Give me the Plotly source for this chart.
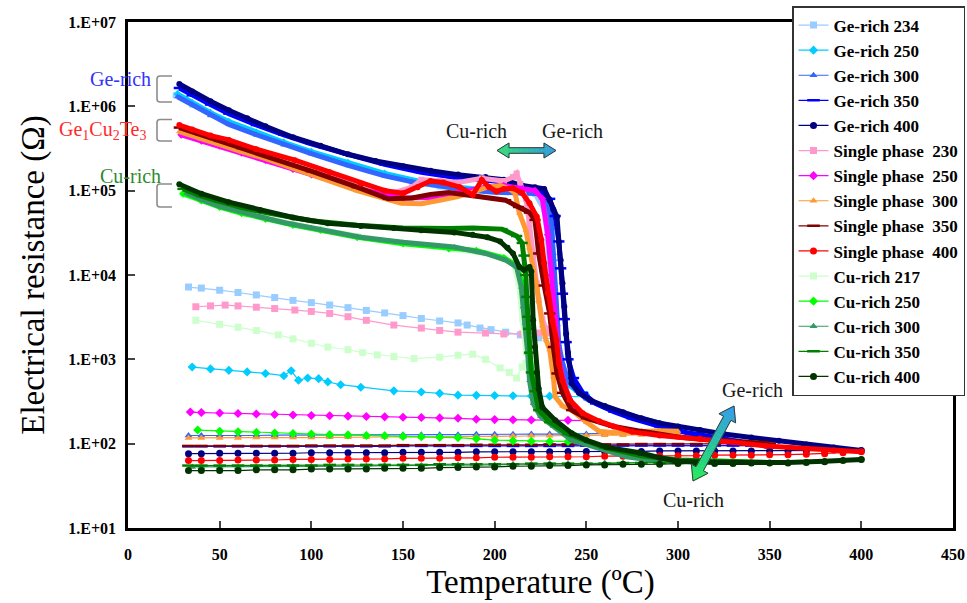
import plotly.graph_objects as go

# ---------------- data ----------------
names = ["Ge-rich 234", "Ge-rich 250", "Ge-rich 300", "Ge-rich 350", "Ge-rich 400",
         "Single phase\u00a0\u00a0230", "Single phase\u00a0\u00a0250", "Single phase\u00a0\u00a0300",
         "Single phase\u00a0\u00a0350", "Single phase\u00a0\u00a0400",
         "Cu-rich 217", "Cu-rich 250", "Cu-rich 300", "Cu-rich 350", "Cu-rich 400"]

# Ge-rich 234
ge234_heat_T = [26, 35, 45, 55, 70, 85, 100, 120, 140, 155, 170, 185, 200, 212, 222, 227, 229, 230, 231, 232, 233, 234]
ge234_heat_R = [1.35e6, 1.05e6, 8.0e5, 6.4e5, 4.7e5, 3.6e5, 2.8e5, 2.05e5, 1.55e5, 1.28e5, 1.12e5, 1.02e5, 9.8e4, 9.6e4, 9.2e4, 6.0e4, 2.5e4, 1.0e4, 5.0e3, 3.0e3, 2.2e3, 1.85e3]
ge234_cool_T = [234, 224, 214, 206, 198, 192, 185, 180, 170, 160, 150, 140, 130, 120, 110, 100, 90, 80, 70, 60, 50, 40, 33]
ge234_cool_R = [1.75e3, 1.8e3, 1.95e3, 2.1e3, 2.25e3, 2.35e3, 2.55e3, 2.7e3, 2.85e3, 3.05e3, 3.3e3, 3.55e3, 3.8e3, 4.1e3, 4.4e3, 4.7e3, 5.0e3, 5.4e3, 5.8e3, 6.2e3, 6.6e3, 7.0e3, 7.2e3]

# Ge-rich 250
ge250_heat_T = [27, 35, 45, 55, 70, 85, 100, 120, 140, 160, 180, 200, 215, 225, 229, 231, 232, 233, 234, 235, 237, 240, 245, 250]
ge250_heat_R = [1.4e6, 1.1e6, 8.4e5, 6.6e5, 4.9e5, 3.75e5, 2.9e5, 2.15e5, 1.6e5, 1.28e5, 1.1e5, 1.0e5, 9.8e4, 9.5e4, 7.0e4, 3.5e4, 1.5e4, 6.0e3, 2.5e3, 1.2e3, 700, 500, 420, 380]
ge250_cool_T = [250, 240, 230, 220, 210, 200, 190, 180, 170, 160, 145, 127, 116, 109, 104, 98, 93, 89, 85, 75, 65, 55, 45, 35]
ge250_cool_R = [360, 362, 366, 368, 370, 372, 374, 376, 395, 410, 423, 467, 500, 540, 590, 600, 566, 731, 640, 680, 710, 740, 770, 810]

# Ge-rich 300
ge300_heat_T = [27, 35, 45, 55, 70, 85, 100, 120, 140, 155, 170, 185, 200, 215, 225, 229, 231, 232, 233, 234, 235, 237, 240, 245, 250, 260, 270, 280, 290, 300]
ge300_heat_R = [1.3e6, 1.05e6, 7.8e5, 6.1e5, 4.6e5, 3.5e5, 2.75e5, 2.0e5, 1.5e5, 1.27e5, 1.12e5, 1.02e5, 9.6e4, 9.5e4, 9.2e4, 7.5e4, 4.0e4, 1.8e4, 7.0e3, 3.0e3, 1.5e3, 900, 560, 420, 340, 270, 230, 200, 175, 155]
ge300_cool_T = [300, 290, 280, 270, 260, 250, 240, 230, 220, 210, 200, 190, 180, 170, 160, 150, 140, 130, 120, 110, 100, 90, 80, 70, 60, 50, 40, 33]
ge300_cool_R = [140, 135, 133, 132, 131, 130, 130, 130, 130, 129, 129, 129, 128, 128, 128, 128, 127, 127, 127, 127, 126, 126, 126, 125, 125, 125, 125, 125]

# Ge-rich 350
ge350_heat_T = [28, 35, 45, 55, 70, 85, 100, 120, 140, 160, 180, 200, 215, 225, 230, 233, 235, 236, 237, 238, 239, 240, 243, 248, 255, 265, 275, 290, 305, 320, 335, 350]
ge350_heat_R = [1.65e6, 1.35e6, 1.05e6, 8.2e5, 6.0e5, 4.6e5, 3.6e5, 2.7e5, 2.05e5, 1.65e5, 1.42e5, 1.3e5, 1.1e5, 1.0e5, 8.0e4, 5.0e4, 2.5e4, 1.2e4, 6.0e3, 3.0e3, 1.6e3, 1.0e3, 600, 400, 300, 240, 200, 160, 135, 118, 105, 97]
ge350_cool_T = [350, 340, 330, 320, 310, 300, 290, 280, 270, 260, 250, 240, 230, 220, 210, 200, 190, 180, 170, 160, 150, 140, 130, 120, 110, 100, 90, 80, 70, 60, 50, 40, 33]
ge350_cool_R = [95, 95, 95, 95, 95, 95, 95, 95, 95, 95, 95, 94, 94, 94, 94, 94, 94, 94, 94, 94, 94, 93, 93, 93, 93, 93, 93, 93, 93, 93, 93, 93, 93]

# Ge-rich 400
ge400_heat_T = [28, 35, 45, 55, 65, 75, 90, 105, 120, 135, 150, 165, 180, 195, 205, 215, 222, 227, 230, 232, 234, 235, 236, 237, 238, 239, 240, 242, 246, 252, 260, 270, 280, 290, 300, 312, 325, 340, 355, 370, 385, 400]
ge400_heat_R = [1.84e6, 1.5e6, 1.15e6, 9.0e5, 7.2e5, 5.8e5, 4.3e5, 3.4e5, 2.7e5, 2.25e5, 1.95e5, 1.72e5, 1.55e5, 1.45e5, 1.35e5, 1.15e5, 1.1e5, 1.05e5, 7.7e4, 6.0e4, 4.9e4, 2.5e4, 1.5e4, 8.0e3, 4.2e3, 2.0e3, 1.2e3, 520, 400, 330, 280, 235, 200, 175, 160, 145, 130, 118, 108, 98, 90, 83]
ge400_cool_T = [400, 390, 380, 370, 360, 350, 340, 330, 320, 310, 300, 290, 280, 270, 260, 250, 240, 230, 220, 210, 200, 190, 180, 170, 160, 150, 140, 130, 120, 110, 100, 90, 80, 70, 60, 50, 40, 33]
ge400_cool_R = [83, 83, 82, 82, 82, 82, 82, 82, 82, 82, 82, 82, 81, 81, 81, 81, 81, 80, 80, 80, 80, 80, 79, 79, 79, 79, 78, 78, 78, 78, 78, 77, 77, 77, 77, 77, 76, 76]

# Single phase 230
sp230_heat_T = [29, 40, 50, 62, 75, 100, 125, 145, 155, 160, 170, 180, 193, 205, 210, 212, 214, 217, 219, 221, 223, 224, 226, 228, 230]
sp230_heat_R = [5.2e5, 4.3e5, 3.7e5, 3.0e5, 2.5e5, 1.7e5, 1.2e5, 9.5e4, 1.1e5, 1.35e5, 1.3e5, 1.25e5, 1.4e5, 1.3e5, 1.45e5, 1.6e5, 1.2e5, 8.0e4, 4.0e4, 1.8e4, 8.0e3, 5.0e3, 3.0e3, 2.3e3, 2.05e3]
sp230_cool_T = [230, 224, 215, 205, 195, 180, 170, 160, 145, 130, 120, 110, 100, 91, 80, 70, 60, 53, 45, 37]
sp230_cool_R = [2.05e3, 2.05e3, 2.0e3, 2.0e3, 2.05e3, 2.1e3, 2.2e3, 2.35e3, 2.55e3, 2.9e3, 3.2e3, 3.5e3, 3.7e3, 3.84e3, 4.0e3, 4.15e3, 4.3e3, 4.4e3, 4.3e3, 4.2e3]

# Single phase 250
sp250_heat_T = [29, 40, 50, 62, 75, 90, 100, 125, 150, 165, 180, 195, 205, 215, 222, 226, 229, 231, 233, 235, 238, 242, 246, 250]
sp250_heat_R = [4.6e5, 3.9e5, 3.4e5, 2.8e5, 2.3e5, 1.8e5, 1.55e5, 1.05e5, 8.2e4, 8.3e4, 9.5e4, 1.1e5, 1.15e5, 1.05e5, 1.0e5, 8.0e4, 3.0e4, 1.0e4, 3.0e3, 1.0e3, 500, 300, 220, 190]
sp250_cool_T = [250, 240, 230, 220, 210, 200, 190, 180, 170, 160, 150, 140, 130, 120, 110, 100, 90, 80, 70, 60, 50, 40, 34]
sp250_cool_R = [188, 189, 190, 191, 192, 193, 195, 200, 202, 204, 206, 208, 210, 212, 214, 216, 219, 222, 225, 228, 231, 234, 237]

# Single phase 300
sp300_heat_T = [28, 40, 50, 62, 75, 100, 125, 149, 160, 170, 180, 188, 196, 203, 208, 211, 213.5, 217, 219, 221, 223, 224, 226, 228, 230, 232, 233, 237, 242, 250, 257, 265, 280, 290, 300]
sp300_heat_R = [5.0e5, 4.1e5, 3.6e5, 2.9e5, 2.4e5, 1.55e5, 1.0e5, 7.1e4, 7.0e4, 7.7e4, 8.5e4, 9.6e4, 1.1e5, 1.15e5, 1.05e5, 9.5e4, 5.4e4, 3.4e4, 2.1e4, 1.2e4, 7.2e3, 5.0e3, 2.5e3, 1.7e3, 1.3e3, 620, 360, 280, 250, 180, 140, 135, 142, 142, 140]
sp300_cool_T = [300, 290, 280, 270, 260, 250, 240, 230, 220, 210, 200, 190, 180, 170, 160, 150, 140, 130, 120, 110, 100, 90, 80, 70, 60, 50, 40, 33]
sp300_cool_R = [130, 128, 127, 126, 126, 125, 125, 124, 124, 123, 122, 122, 121, 121, 120, 120, 120, 119, 119, 119, 118, 118, 118, 118, 117, 117, 117, 117]

# Single phase 350
sp350_heat_T = [28, 40, 50, 62, 75, 100, 125, 142, 155, 165, 175, 190, 200, 206, 213, 219, 222, 224, 227, 230, 232, 234, 237, 242, 250, 265, 280, 300, 320, 335, 350]
sp350_heat_R = [5.6e5, 4.6e5, 3.9e5, 3.2e5, 2.6e5, 1.7e5, 1.1e5, 8.0e4, 8.2e4, 9.0e4, 9.5e4, 8.5e4, 8.0e4, 7.7e4, 6.4e4, 5.5e4, 4.5e4, 1.8e4, 7.5e3, 3.5e3, 1.4e3, 680, 400, 250, 200, 160, 140, 120, 110, 104, 100]
sp350_cool_T = [350, 340, 330, 320, 310, 300, 290, 280, 270, 260, 250, 240, 230, 220, 210, 200, 190, 180, 170, 160, 150, 140, 130, 120, 110, 100, 90, 80, 70, 60, 50, 40, 33]
sp350_cool_R = [100, 100, 100, 99, 99, 99, 99, 99, 98, 98, 98, 98, 98, 97, 97, 97, 97, 96, 96, 96, 96, 95, 95, 95, 95, 95, 94, 94, 94, 94, 94, 94, 94]

# Single phase 400
sp400_heat_T = [28, 35, 45, 55, 70, 91, 110, 127, 140, 150, 158, 165, 172, 181, 188, 193, 197, 201, 205, 210, 215, 219, 223, 225.5, 227, 229, 231.5, 233.7, 235, 237, 241, 248, 257, 265, 275, 290, 312, 330, 348, 370, 385, 400]
sp400_heat_R = [6.0e5, 5.3e5, 4.5e5, 4.0e5, 3.1e5, 2.3e5, 1.65e5, 1.22e5, 1.0e5, 9.3e4, 1.1e5, 1.3e5, 1.25e5, 1.1e5, 8.9e4, 1.34e5, 1.1e5, 9.8e4, 1.05e5, 1.07e5, 9.4e4, 7.1e4, 4.9e4, 2.6e4, 1.38e4, 6.1e3, 2.9e3, 1.7e3, 900, 560, 330, 230, 185, 160, 138, 125, 114, 104, 94, 87, 83, 80]
sp400_cool_T = [400, 390, 380, 370, 360, 350, 340, 330, 320, 310, 300, 290, 280, 270, 260, 250, 240, 230, 220, 210, 200, 190, 180, 170, 160, 150, 140, 130, 120, 110, 100, 90, 80, 70, 60, 50, 40, 33]
sp400_cool_R = [80, 78, 76, 75, 74, 74, 73, 73, 73, 72, 72, 72, 71, 71, 71, 70, 70, 70, 69, 69, 69, 68, 68, 67, 67, 67, 66, 66, 66, 65, 65, 65, 64, 64, 64, 63, 63, 63]

# Cu-rich 217
cu217_heat_T = [30, 40, 50, 62, 75, 90, 105, 125, 150, 175, 195, 205, 210, 213, 215, 217]
cu217_heat_R = [9.0e4, 7.6e4, 6.5e4, 5.5e4, 4.7e4, 4.0e4, 3.5e4, 2.9e4, 2.4e4, 2.05e4, 1.8e4, 1.6e4, 1.4e4, 8.0e3, 3.0e3, 1.2e3]
cu217_cool_T = [217, 215, 212, 208, 203, 195, 188, 180, 170, 156, 145, 136, 128, 120, 109, 100, 90, 82, 70, 60, 50, 37]
cu217_cool_R = [900, 810, 600, 700, 790, 1.0e3, 1.15e3, 1.12e3, 1.06e3, 1.02e3, 1.08e3, 1.13e3, 1.2e3, 1.3e3, 1.4e3, 1.55e3, 1.75e3, 1.95e3, 2.2e3, 2.4e3, 2.6e3, 2.9e3]

# Cu-rich 250
cu250_heat_T = [30, 40, 50, 62, 75, 90, 105, 125, 150, 175, 190, 205, 212, 215, 217, 219, 221, 223, 226, 230, 240, 250]
cu250_heat_R = [9.2e4, 7.6e4, 6.4e4, 5.4e4, 4.6e4, 3.9e4, 3.4e4, 2.8e4, 2.35e4, 2.05e4, 1.95e4, 1.6e4, 1.3e4, 8.0e3, 3.0e3, 1.2e3, 600, 350, 230, 180, 140, 110]
cu250_cool_T = [250, 240, 230, 220, 210, 200, 190, 180, 170, 160, 150, 140, 130, 120, 110, 100, 90, 80, 70, 60, 50, 38]
cu250_cool_R = [105, 106, 106, 107, 108, 110, 114, 118, 119, 121, 122, 124, 125, 127, 128, 130, 132, 134, 136, 138, 140, 145]

# Cu-rich 300
cu300_heat_T = [32, 40, 50, 62, 72, 85, 100, 115, 127, 150, 178, 195, 206, 212, 214.5, 215.5, 216.5, 218, 219, 221, 225, 232, 242, 252, 261, 272, 285, 300]
cu300_heat_R = [9.3e4, 7.8e4, 6.5e4, 5.5e4, 4.9e4, 4.2e4, 3.6e4, 3.1e4, 2.8e4, 2.45e4, 2.15e4, 1.8e4, 1.5e4, 1.24e4, 7.2e3, 4.2e3, 2.7e3, 1.2e3, 560, 300, 210, 160, 110, 95, 84, 70, 64, 62]
cu300_cool_T = [300, 290, 280, 270, 260, 250, 240, 230, 220, 210, 200, 190, 180, 170, 160, 150, 140, 130, 120, 110, 100, 90, 80, 70, 60, 50, 40, 35]
cu300_cool_R = [60, 60, 59, 59, 59, 58, 58, 58, 57, 57, 56, 56, 56, 55, 55, 55, 55, 54, 54, 54, 54, 54, 53, 53, 53, 53, 53, 53]

# Cu-rich 350
cu350_heat_T = [30, 40, 50, 62, 75, 90, 100, 125, 150, 175, 188, 204, 212, 215, 216, 217, 217.5, 218, 218.5, 219, 220, 222, 224, 230, 240, 260, 280, 300, 325, 350]
cu350_heat_R = [1.05e5, 8.6e4, 7.4e4, 6.3e4, 5.5e4, 4.8e4, 4.4e4, 3.9e4, 3.6e4, 3.55e4, 3.6e4, 3.5e4, 2.9e4, 2.4e4, 1.7e4, 1.0e4, 5.5e3, 3.2e3, 2.3e3, 1.2e3, 700, 420, 250, 180, 130, 90, 72, 64, 61, 60]
cu350_cool_T = [350, 340, 330, 320, 310, 300, 290, 280, 270, 260, 250, 240, 230, 220, 210, 200, 190, 180, 170, 160, 150, 140, 130, 120, 110, 100, 90, 80, 70, 60, 50, 40, 33]
cu350_cool_R = [60, 60, 60, 60, 59, 59, 59, 59, 59, 58, 58, 58, 58, 58, 57, 57, 57, 57, 57, 56, 56, 56, 56, 56, 56, 55, 55, 55, 55, 55, 55, 55, 55]

# Cu-rich 400
cu400_heat_T = [28, 40, 55, 72, 90, 109, 127, 145, 160, 178, 188, 196, 203, 207, 210, 213.5, 216, 219, 220, 221, 222, 223, 224, 226, 233, 242, 250, 261, 279, 290, 300, 320, 340, 360, 380, 400]
cu400_heat_R = [1.19e5, 9.2e4, 7.3e4, 5.9e4, 4.8e4, 4.1e4, 3.8e4, 3.6e4, 3.4e4, 3.2e4, 3.0e4, 2.8e4, 2.5e4, 2.1e4, 1.8e4, 1.24e4, 1.15e4, 1.24e4, 1.1e4, 2.9e3, 1.4e3, 700, 450, 270, 190, 133, 110, 91, 78, 68, 62, 60, 59, 60, 62, 65]
cu400_cool_T = [400, 390, 380, 370, 360, 350, 340, 330, 320, 310, 300, 290, 280, 270, 260, 250, 240, 230, 220, 210, 200, 190, 180, 170, 160, 150, 140, 130, 120, 110, 100, 90, 80, 70, 60, 50, 40, 33]
cu400_cool_R = [65, 63, 61, 60, 59, 59, 59, 58, 58, 58, 58, 57, 57, 57, 56, 56, 55, 55, 54, 54, 53, 53, 52, 52, 51, 51, 51, 50, 50, 50, 50, 49, 49, 49, 48, 48, 48, 48]

x_tick_vals = [0, 50, 100, 150, 200, 250, 300, 350, 400, 450]
y_tick_vals = [1e1, 1e2, 1e3, 1e4, 1e5, 1e6, 1e7]
y_tick_text = ["1.E+01", "1.E+02", "1.E+03", "1.E+04", "1.E+05", "1.E+06", "1.E+07"]

# ---------------- styling ----------------
colors = ["#99ccff", "#00ccff", "#3366ff", "#0000ff", "#000080",
          "#ff99cc", "#ff00ff", "#ff9933", "#800000", "#ff0000",
          "#ccffcc", "#00ff00", "#339966", "#008000", "#003300"]
symbols = ["square", "diamond", "triangle-up", "line-ew", "circle"] * 3

heat_T = [ge234_heat_T, ge250_heat_T, ge300_heat_T, ge350_heat_T, ge400_heat_T,
          sp230_heat_T, sp250_heat_T, sp300_heat_T, sp350_heat_T, sp400_heat_T,
          cu217_heat_T, cu250_heat_T, cu300_heat_T, cu350_heat_T, cu400_heat_T]
heat_R = [ge234_heat_R, ge250_heat_R, ge300_heat_R, ge350_heat_R, ge400_heat_R,
          sp230_heat_R, sp250_heat_R, sp300_heat_R, sp350_heat_R, sp400_heat_R,
          cu217_heat_R, cu250_heat_R, cu300_heat_R, cu350_heat_R, cu400_heat_R]
cool_T = [ge234_cool_T, ge250_cool_T, ge300_cool_T, ge350_cool_T, ge400_cool_T,
          sp230_cool_T, sp250_cool_T, sp300_cool_T, sp350_cool_T, sp400_cool_T,
          cu217_cool_T, cu250_cool_T, cu300_cool_T, cu350_cool_T, cu400_cool_T]
cool_R = [ge234_cool_R, ge250_cool_R, ge300_cool_R, ge350_cool_R, ge400_cool_R,
          sp230_cool_R, sp250_cool_R, sp300_cool_R, sp350_cool_R, sp400_cool_R,
          cu217_cool_R, cu250_cool_R, cu300_cool_R, cu350_cool_R, cu400_cool_R]

SERIF = "Liberation Serif"

fig = go.Figure()
for i, nm in enumerate(names):
    sym = symbols[i]
    is_line = sym == "line-ew"
    mk_heat = dict(symbol=sym, size=8 if is_line else 6, color=colors[i],
                   line=dict(color=colors[i], width=2.5 if is_line else 0))
    mk_cool = dict(symbol=sym, size=9 if is_line else 7, color=colors[i],
                   line=dict(color=colors[i], width=2.5 if is_line else 0))
    fig.add_trace(go.Scatter(x=heat_T[i], y=heat_R[i], mode="lines+markers",
                             line=dict(color=colors[i], width=5), marker=mk_heat,
                             legendgroup="g%d" % i, showlegend=False, name=nm,
                             hoverinfo="skip"))
    fig.add_trace(go.Scatter(x=cool_T[i], y=cool_R[i], mode="lines+markers",
                             line=dict(color=colors[i], width=1.2), marker=mk_cool,
                             legendgroup="g%d" % i, showlegend=True, name=nm))

# ---------------- layout geometry helpers (pixel -> paper) ----------------
W, H = 967, 603
L_M, R_M, T_M, B_M = 128, 14, 22, 75
PW = W - L_M - R_M
PH = H - T_M - B_M


def pp(px, py):
    return ((px - L_M) / PW, (H - B_M - py) / PH)


def path_from(points, close=True):
    s = ""
    for k, (px, py) in enumerate(points):
        x, y = pp(px, py)
        s += ("M" if k == 0 else "L") + " %.5f,%.5f " % (x, y)
    return s + ("Z" if close else "")


def mix(c0, c1, t):
    a = [int(c0[j:j + 2], 16) for j in (1, 3, 5)]
    b = [int(c1[j:j + 2], 16) for j in (1, 3, 5)]
    return "#%02x%02x%02x" % tuple(int(round(a[k] + (b[k] - a[k]) * t)) for k in range(3))


shapes = []


def double_arrow(p0, p1, head_len, head_half, shaft_half, c0, c1, n=14):
    import math
    dx, dy = p1[0] - p0[0], p1[1] - p0[1]
    Ln = math.hypot(dx, dy)
    ux, uy = dx / Ln, dy / Ln
    nx, ny = -uy, ux

    def P(s, w):
        return (p0[0] + ux * s + nx * w, p0[1] + uy * s + ny * w)

    sections = [(0, head_len, 0, head_half, 5),
                (head_len, Ln - head_len, shaft_half, shaft_half, n),
                (Ln - head_len, Ln, head_half, 0, 5)]
    for sa, sb, wa, wb, k in sections:
        for q in range(k):
            s0 = sa + (sb - sa) * q / k
            s1 = sa + (sb - sa) * (q + 1) / k
            w0 = wa + (wb - wa) * q / k
            w1 = wa + (wb - wa) * (q + 1) / k
            col = mix(c0, c1, (s0 + s1) / 2 / Ln)
            pts = [P(s0, w0), P(s1, w1), P(s1, -w1), P(s0, -w0)]
            shapes.append(dict(type="path", xref="paper", yref="paper", path=path_from(pts),
                               fillcolor=col, line=dict(color=col, width=0.6), layer="above"))
    outline = [P(0, 0), P(head_len, head_half), P(head_len, shaft_half),
               P(Ln - head_len, shaft_half), P(Ln - head_len, head_half), P(Ln, 0),
               P(Ln - head_len, -head_half), P(Ln - head_len, -shaft_half),
               P(head_len, -shaft_half), P(head_len, -head_half)]
    shapes.append(dict(type="path", xref="paper", yref="paper", path=path_from(outline),
                       line=dict(color="#3a3a3a", width=1), fillcolor="rgba(0,0,0,0)",
                       layer="above"))


# horizontal double arrow (Cu-rich <-> Ge-rich)
double_arrow((497, 150.5), (556, 150.5), 12, 7.5, 2.8, "#33dd77", "#3399dd")
# diagonal double arrow
double_arrow((693, 481), (734, 406), 14, 9.5, 4.2, "#22ee55", "#3399ee")


def bracket(y0, y1, x_left=157, x_right=172):
    x0, y00 = pp(x_right, y0)
    xa, ya = pp(x_left + 3, y0)
    xc, yc = pp(x_left, y0)
    xb, yb = pp(x_left, y0 + 3)
    xd, yd = pp(x_left, y1 - 3)
    xe, ye = pp(x_left, y1)
    xf, yf = pp(x_left + 3, y1)
    xg, yg = pp(x_right, y1)
    path = ("M %.5f,%.5f L %.5f,%.5f Q %.5f,%.5f %.5f,%.5f L %.5f,%.5f Q %.5f,%.5f %.5f,%.5f L %.5f,%.5f"
            % (x0, y00, xa, ya, xc, yc, xb, yb, xd, yd, xe, ye, xf, yf, xg, yg))
    shapes.append(dict(type="path", xref="paper", yref="paper", path=path,
                       line=dict(color="#8c8c8c", width=1.6)))


bracket(76, 102)
bracket(119.5, 141)
bracket(184, 207)

annotations = []


def label(px, py, text, color, size=20):
    x, y = pp(px, py)
    annotations.append(dict(x=x, y=y, xref="paper", yref="paper", text=text, showarrow=False,
                            xanchor="center", yanchor="middle",
                            font=dict(family=SERIF, size=size, color=color)))


label(120, 79, "Ge-rich", "#3333ff")
label(102, 130, "Ge<sub>1</sub>Cu<sub>2</sub>Te<sub>3</sub>", "#ff2a2a")
label(130, 176, "Cu-rich", "#2e8b2e")
label(476, 131, "Cu-rich", "#1a1a1a")
label(572, 131, "Ge-rich", "#1a1a1a")
label(752, 390, "Ge-rich", "#1a1a1a")
label(693, 500, "Cu-rich", "#1a1a1a")

fig.update_layout(
    width=W, height=H,
    margin=dict(l=L_M, r=R_M, t=T_M, b=B_M, autoexpand=False),
    paper_bgcolor="white", plot_bgcolor="white",
    font=dict(family=SERIF, color="black"),
    shapes=shapes, annotations=annotations,
    legend=dict(x=792 / W, y=1 - 6 / H, xanchor="left", yanchor="top",
                xref="container", yref="container",
                bgcolor="white", bordercolor="#333333", borderwidth=1.5,
                font=dict(family=SERIF, size=17, color="black", weight="bold"),
                traceorder="grouped", tracegroupgap=0, itemwidth=30, maxheight=440),
    xaxis=dict(range=[0, 450], tickvals=x_tick_vals, ticks="inside", ticklen=7, tickwidth=2,
               showline=True, linewidth=2.5, linecolor="black", mirror=True, showgrid=False,
               zeroline=False, tickfont=dict(family=SERIF, size=16, color="black", weight="bold"),
               ticklabelstandoff=10, automargin=False,
               title=dict(text="Temperature (ºC)", font=dict(family=SERIF, size=33, color="black"),
                          standoff=8)),
    yaxis=dict(type="log", range=[1, 7], tickvals=y_tick_vals, ticktext=y_tick_text,
               ticks="inside", ticklen=7, tickwidth=2,
               showline=True, linewidth=2.5, linecolor="black", mirror=True, showgrid=False,
               zeroline=False, tickfont=dict(family=SERIF, size=16, color="black", weight="bold"),
               ticklabelstandoff=6, automargin=False,
               title=dict(text="Electrical resistance (Ω)", font=dict(family=SERIF, size=33, color="black"),
                          standoff=14)),
)

fig.write_html("out.html")
